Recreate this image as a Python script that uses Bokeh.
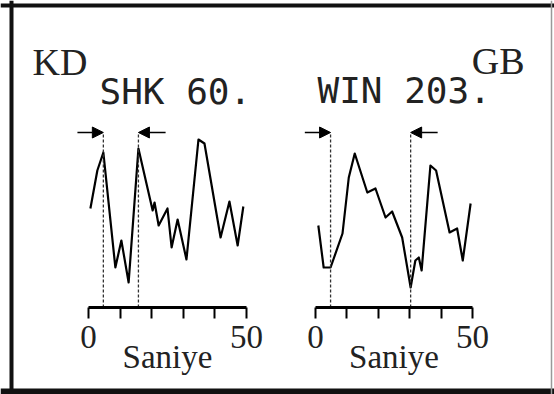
from bokeh.plotting import figure
from bokeh.models import (Range1d, LinearAxis, FixedTicker, Span, Label, Arrow,
                          NormalHead, ColumnDataSource)
from bokeh.embed import file_html
from bokeh.resources import INLINE

# ---- data ----
t_kd = [0.6, 2.8, 4.7, 8.5, 10.4, 12.7, 15.8, 20.3, 20.9, 22.2, 25.0, 26.3,
        28.2, 31.0, 34.8, 36.7, 41.8, 44.6, 47.2, 49.0]
a_kd = [99, 137, 155, 40, 67, 25, 159, 97, 105, 82, 99, 60, 88, 48, 168, 164,
        70, 106, 62, 101]
t_gb = [0.9, 2.6, 4.8, 8.6, 10.6, 12.5, 16.5, 19.1, 22.3, 24.4, 27.6, 30.3,
        31.8, 32.9, 33.8, 36.6, 38.4, 42.7, 45.1, 46.9, 49.4]
a_gb = [82, 40, 40, 74, 130, 154, 115, 119, 90, 96, 70, 20, 47, 50, 37, 142,
        137, 75, 79, 47, 104]
marks_kd = [4.7, 15.8]
marks_gb = [4.8, 30.3]
tick_values = [0, 10, 20, 30, 40, 50]
tick_labels = ["0", "", "", "", "", "50"]
panel_names = ["KD", "GB"]
codes = ["SHK 60.", "WIN 203."]
x_label = "Saniye"

# ---- figure ----
W, H = 554, 394
p = figure(width=W, height=H, output_backend="svg", toolbar_location=None,
           x_range=Range1d(0, W), y_range=Range1d(307 - H, 307),
           x_axis_type=None, y_axis_type=None, min_border=0)
p.outline_line_color = None
p.background_fill_color = "white"
p.border_fill_color = "white"
p.grid.visible = False

p.extra_x_ranges = {
    "L": Range1d(-88 / 3.16, (W - 88) / 3.16),
    "R": Range1d(-315 / 3.14, (W - 315) / 3.14),
}

ARROW_Y = 175
for rname, t, a, marks in [("L", t_kd, a_kd, marks_kd), ("R", t_gb, a_gb, marks_gb)]:
    p.line(t, a, x_range_name=rname, line_color="black", line_width=2.2,
           line_join="round")
    p.segment(x0=marks, y0=0, x1=marks, y1=ARROW_Y, x_range_name=rname,
              line_color="#333333", line_width=1.3, line_dash="3 2")
    src = ColumnDataSource(dict(xs=[marks[0] - 8.2, marks[1] + 8.6],
                                xe=[marks[0], marks[1]],
                                y=[ARROW_Y, ARROW_Y]))
    p.add_layout(Arrow(source=src, x_start="xs", y_start="y", x_end="xe",
                       y_end="y", x_range_name=rname, line_width=1.5,
                       line_color="black",
                       end=NormalHead(size=11, fill_color="black",
                                      line_color="black")))
    ax = LinearAxis(x_range_name=rname, fixed_location=0, bounds=(0, 50),
                    ticker=FixedTicker(ticks=tick_values, minor_ticks=[]),
                    major_label_overrides={v: l for v, l in zip(tick_values, tick_labels)},
                    axis_label=x_label)
    ax.axis_line_width = 3
    ax.axis_line_color = "black"
    ax.major_tick_line_width = 2
    ax.major_tick_line_color = "black"
    ax.major_tick_out = 11
    ax.major_tick_in = 0
    ax.minor_tick_out = 0
    ax.minor_tick_in = 0
    ax.major_label_text_font = "Liberation Serif"
    ax.major_label_text_font_size = "33px"
    ax.major_label_text_color = "#222222"
    ax.major_label_standoff = 7
    ax.axis_label_text_font = "Liberation Serif"
    ax.axis_label_text_font_size = "33px"
    ax.axis_label_text_font_style = "normal"
    ax.axis_label_text_color = "#222222"
    ax.axis_label_standoff = -12
    p.add_layout(ax, "below")

# panel titles and codes
p.add_layout(Label(x=32, y=246, text=panel_names[0], text_font="Liberation Serif",
                   text_font_size="38px", text_baseline="alphabetic",
                   text_color="#222222"))
p.add_layout(Label(x=524, y=247, text=panel_names[1], text_font="Liberation Serif",
                   text_font_size="38px", text_baseline="alphabetic",
                   text_align="right", text_color="#222222"))
p.add_layout(Label(x=99, y=216, text=codes[0], text_font="DejaVu Sans Mono",
                   text_font_size="36px", text_baseline="alphabetic",
                   text_color="#222222"))
p.add_layout(Label(x=317, y=217, text=codes[1], text_font="DejaVu Sans Mono",
                   text_font_size="36px", text_baseline="alphabetic",
                   text_color="#222222"))

# frame border
p.add_layout(Span(location=11, dimension="height", line_width=4, line_color="#111111"))
p.add_layout(Span(location=302, dimension="width", line_width=4, line_color="#111111"))
p.add_layout(Span(location=-84, dimension="width", line_width=6, line_color="#111111"))
p.add_layout(Span(location=551, dimension="height", line_width=1.5, line_color="#999999"))

open("out.html", "w").write(file_html(p, INLINE))
